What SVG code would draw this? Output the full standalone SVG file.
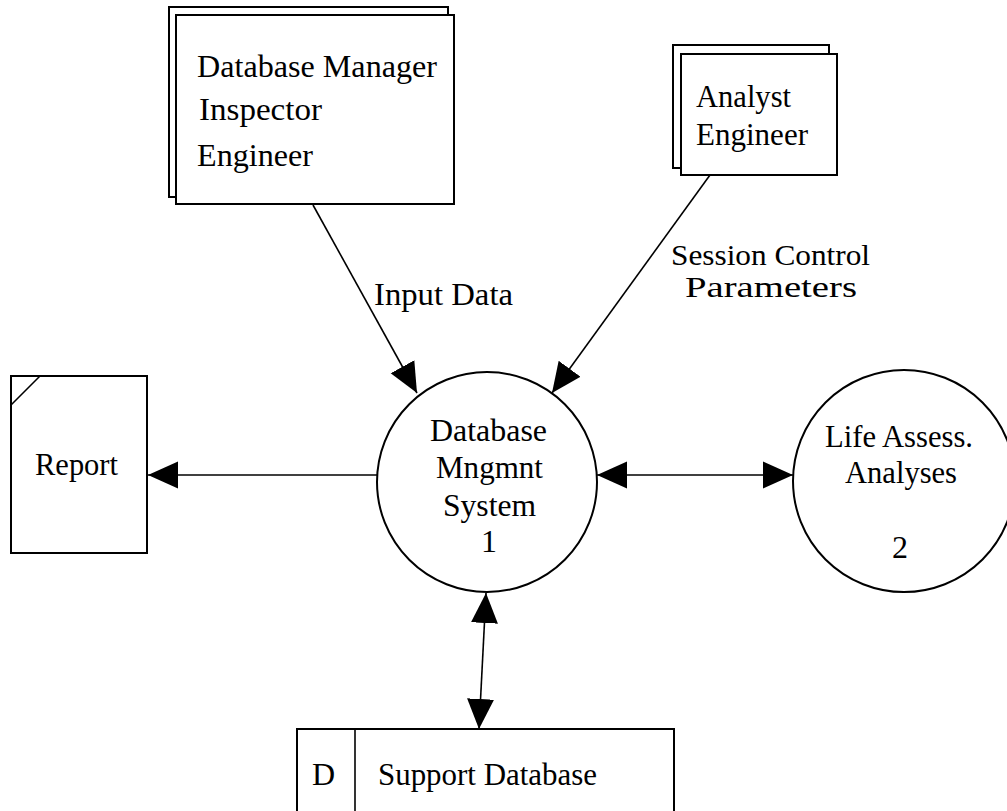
<svg xmlns="http://www.w3.org/2000/svg" width="1007" height="811" viewBox="0 0 1007 811">
<style>
.box{fill:#fff;stroke:#000;stroke-width:2}
.ln{fill:none;stroke:#000;stroke-width:1.6}
.t{font-family:"Liberation Serif","Times New Roman",serif;font-size:32px;fill:#000}
.s{font-size:30px}
.m{text-anchor:middle}
</style>
<defs>
<marker id="ah" markerUnits="userSpaceOnUse" markerWidth="30" markerHeight="28" refX="30" refY="13.5" orient="auto-start-reverse" viewBox="0 0 30 27">
<path d="M0,0 L30,13.5 L0,27 z" fill="#000"/>
</marker>
</defs>
<rect width="1007" height="811" fill="#fff"/>
<g id="connectors">
<line class="ln" x1="313" y1="205" x2="417" y2="393" marker-end="url(#ah)"/>
<line class="ln" x1="710" y1="175" x2="552" y2="393" marker-end="url(#ah)"/>
<line class="ln" x1="377" y1="475" x2="148" y2="475" marker-end="url(#ah)"/>
<line class="ln" x1="597" y1="475" x2="793" y2="475" marker-start="url(#ah)" marker-end="url(#ah)"/>
<line class="ln" x1="486" y1="593" x2="479" y2="729" marker-start="url(#ah)" marker-end="url(#ah)"/>
</g>
<g id="dbmanager">
<rect class="box" x="169" y="7" width="279" height="190"/>
<rect class="box" x="176" y="15" width="278" height="189"/>
<text class="t" x="197" y="77" textLength="240" lengthAdjust="spacingAndGlyphs">Database Manager</text>
<text class="t" x="199" y="120" textLength="123" lengthAdjust="spacingAndGlyphs">Inspector</text>
<text class="t" x="197" y="166" textLength="116" lengthAdjust="spacingAndGlyphs">Engineer</text>
</g>
<g id="analyst">
<rect class="box" x="673" y="45" width="156" height="123"/>
<rect class="box" x="681" y="54" width="156" height="121"/>
<text class="t" x="696" y="107" textLength="95" lengthAdjust="spacingAndGlyphs">Analyst</text>
<text class="t" x="696" y="145" textLength="112" lengthAdjust="spacingAndGlyphs">Engineer</text>
</g>
<g id="label-input">
<text class="t" x="374" y="305" textLength="139" lengthAdjust="spacingAndGlyphs">Input Data</text>
</g>
<g id="label-session">
<text class="t s" x="671" y="265" textLength="199" lengthAdjust="spacingAndGlyphs">Session Control</text>
<text class="t s" x="685" y="297" textLength="172" lengthAdjust="spacingAndGlyphs">Parameters</text>
</g>
<g id="report">
<rect class="box" x="11" y="376" width="136" height="177"/>
<line class="ln" x1="40" y1="376" x2="11" y2="405"/>
<text class="t" x="35" y="475" textLength="83" lengthAdjust="spacingAndGlyphs">Report</text>
</g>
<g id="process1">
<circle class="box" cx="487" cy="482" r="110"/>
<text class="t" x="430" y="441" textLength="117" lengthAdjust="spacingAndGlyphs">Database</text>
<text class="t" x="436" y="478" textLength="107" lengthAdjust="spacingAndGlyphs">Mngmnt</text>
<text class="t" x="443" y="516" textLength="93" lengthAdjust="spacingAndGlyphs">System</text>
<text class="t m" x="489" y="552">1</text>
</g>
<g id="process2">
<circle class="box" cx="904" cy="481" r="111"/>
<text class="t" x="825" y="447" textLength="148" lengthAdjust="spacingAndGlyphs">Life Assess.</text>
<text class="t" x="845" y="483" textLength="112" lengthAdjust="spacingAndGlyphs">Analyses</text>
<text class="t m" x="900" y="558">2</text>
</g>
<g id="store">
<path class="box" d="M297,811 V729 H674 V811" fill="none"/>
<line class="ln" x1="355" y1="729" x2="355" y2="811"/>
<text class="t" x="312" y="785">D</text>
<text class="t" x="378" y="785" textLength="219" lengthAdjust="spacingAndGlyphs">Support Database</text>
</g>
</svg>
